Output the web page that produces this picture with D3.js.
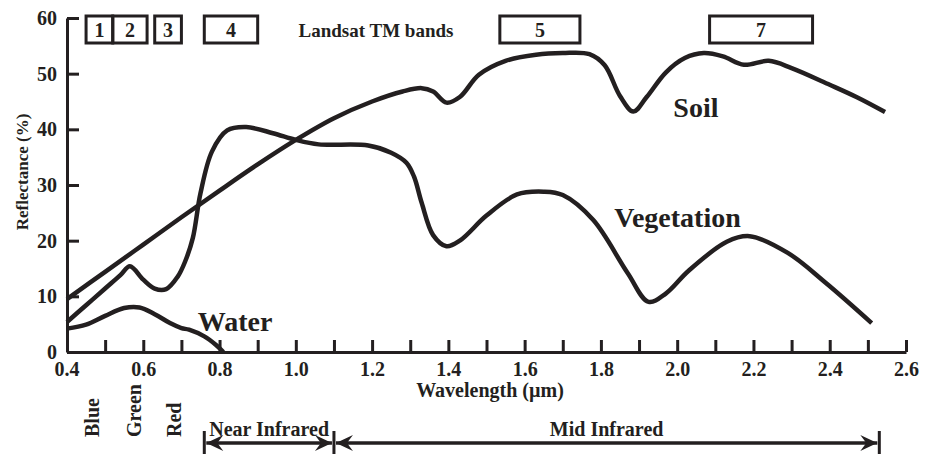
<!DOCTYPE html>
<html>
<head>
<meta charset="utf-8">
<script src="https://cdn.jsdelivr.net/npm/d3@7"></script>
<style>
  body { margin: 0; background: #fff; }
  text { font-family: "Liberation Serif", "Times New Roman", serif; font-weight: bold; fill: #231f20; }
</style>
</head>
<body>
<div id="chart"></div>
<script>
// reflectance curves (wavelength in um, reflectance in %)
var soilWl = [0.40, 0.50, 0.60, 0.70, 0.80, 0.90, 1.00, 1.10, 1.20, 1.28, 1.33, 1.36, 1.395, 1.43, 1.48, 1.55, 1.63, 1.70, 1.77, 1.81, 1.85, 1.885, 1.92, 1.97, 2.02, 2.07, 2.12, 2.175, 2.24, 2.30, 2.40, 2.47, 2.545];
var soilRefl = [9.5, 14.4, 19.3, 24.2, 29.0, 33.7, 38.1, 42.0, 45.0, 46.8, 47.4, 46.8, 44.8, 45.8, 49.8, 52.3, 53.4, 53.7, 53.5, 51.5, 46.0, 43.2, 45.8, 50.2, 52.8, 53.7, 53.1, 51.6, 52.3, 51.0, 48.0, 45.8, 43.1];

var vegWl = [0.40, 0.45, 0.50, 0.54, 0.565, 0.60, 0.63, 0.66, 0.69, 0.71, 0.73, 0.75, 0.78, 0.82, 0.87, 0.94, 1.00, 1.06, 1.19, 1.25, 1.29, 1.31, 1.33, 1.36, 1.395, 1.43, 1.50, 1.58, 1.65, 1.70, 1.78, 1.87, 1.925, 1.97, 2.03, 2.13, 2.19, 2.29, 2.39, 2.51];
var vegRefl = [5.4, 8.4, 11.4, 13.8, 15.4, 13.0, 11.4, 11.3, 13.5, 16.3, 20.5, 28.5, 36.0, 39.8, 40.4, 39.3, 38.1, 37.3, 37.1, 35.8, 34.0, 31.5, 26.8, 21.0, 19.0, 20.0, 24.5, 28.3, 28.8, 28.2, 23.7, 14.2, 9.0, 10.5, 14.6, 19.8, 20.8, 17.8, 12.4, 5.2];

var waterWl = [0.40, 0.45, 0.50, 0.55, 0.59, 0.63, 0.67, 0.70, 0.72, 0.76, 0.79, 0.81];
var waterRefl = [4.2, 4.9, 6.5, 7.9, 8.0, 6.8, 5.2, 4.3, 4.0, 2.8, 1.3, 0.0];

// Landsat TM band boxes along the top
var bandLabels = ['1', '2', '3', '4', '5', '7'];
var bandStart = [0.45, 0.52, 0.63, 0.76, 1.535, 2.085];
var bandEnd = [0.52, 0.61, 0.70, 0.90, 1.745, 2.355];

var xTicks = d3.range(4, 27).map(function (d) { return d / 10; });
var yTicks = [0, 10, 20, 30, 40, 50, 60];

var width = 936, height = 454;

var svg = d3.select('#chart').append('svg')
    .attr('width', width)
    .attr('height', height);

var x = d3.scaleLinear().domain([0.4, 2.6]).range([67, 906]);
var y = d3.scaleLinear().domain([0, 60]).range([352, 18]);

var ink = '#231f20';

// x axis, ticks point inward
var xAxis = d3.axisBottom(x)
    .tickValues(xTicks.slice(1))
    .tickSize(-12)
    .tickSizeOuter(0)
    .tickFormat(function (d) { return Math.round(d * 10) % 2 === 0 ? d3.format('.1f')(d) : ''; });

var gx = svg.append('g')
    .attr('transform', 'translate(0,' + y(0) + ')')
    .call(xAxis);
gx.select('.domain').attr('stroke', ink).attr('stroke-width', 3);
gx.selectAll('.tick line').attr('stroke', ink).attr('stroke-width', 3);
gx.selectAll('.tick text')
    .attr('y', 24).attr('dy', 0)
    .style('font-size', '20px');
// the 0.4 label sits under the y axis
gx.append('text')
    .attr('x', x(0.4)).attr('y', 24)
    .attr('text-anchor', 'middle')
    .style('font-size', '20px')
    .text('0.4');

var yAxis = d3.axisLeft(y)
    .tickValues(yTicks)
    .tickSize(-12)
    .tickSizeOuter(0)
    .tickPadding(10);

var gy = svg.append('g')
    .attr('transform', 'translate(' + x(0.4) + ',0)')
    .call(yAxis);
gy.select('.domain').attr('stroke', ink).attr('stroke-width', 3);
gy.selectAll('.tick line').attr('stroke', ink).attr('stroke-width', 3);
gy.selectAll('.tick text').style('font-size', '20px');

svg.selectAll('.tick text').style('fill', ink).style('font-family', '"Liberation Serif", serif').style('font-weight', 'bold');

// axis titles
svg.append('text')
    .attr('transform', 'translate(28,172) rotate(-90)')
    .attr('text-anchor', 'middle')
    .style('font-size', '17px')
    .text('Reflectance (%)');

svg.append('text')
    .attr('x', 490).attr('y', 397)
    .attr('text-anchor', 'middle')
    .style('font-size', '20px')
    .text('Wavelength (µm)');

// curves
var line = d3.line()
    .x(function (d) { return x(d[0]); })
    .y(function (d) { return y(d[1]); })
    .curve(d3.curveCatmullRom.alpha(0.5));

var series = [
    {name: 'Soil', pts: d3.zip(soilWl, soilRefl)},
    {name: 'Vegetation', pts: d3.zip(vegWl, vegRefl)},
    {name: 'Water', pts: d3.zip(waterWl, waterRefl)}
];

svg.selectAll('path.curve')
    .data(series)
    .enter()
    .append('path')
    .attr('class', 'curve')
    .attr('fill', 'none')
    .attr('stroke', ink)
    .attr('stroke-width', 4.5)
    .attr('stroke-linejoin', 'round')
    .attr('d', function (d) { return line(d.pts); });

// curve names
var curveLabels = [
    {name: 'Soil', w: 1.99, r: 42.2},
    {name: 'Vegetation', w: 1.835, r: 22.5},
    {name: 'Water', w: 0.743, r: 3.8}
];
svg.selectAll('text.curveName')
    .data(curveLabels)
    .enter()
    .append('text')
    .attr('class', 'curveName')
    .attr('x', function (d) { return x(d.w); })
    .attr('y', function (d) { return y(d.r); })
    .style('font-size', '28px')
    .text(function (d) { return d.name; });

// band boxes
var bands = svg.append('g');
bandLabels.forEach(function (b, i) {
    var x0 = x(bandStart[i]), x1 = x(bandEnd[i]);
    bands.append('rect')
        .attr('x', x0).attr('y', 16)
        .attr('width', x1 - x0).attr('height', 27)
        .attr('fill', 'none')
        .attr('stroke', ink)
        .attr('stroke-width', 3);
    bands.append('text')
        .attr('x', (x0 + x1) / 2).attr('y', 37)
        .attr('text-anchor', 'middle')
        .style('font-size', '20px')
        .text(b);
});

svg.append('text')
    .attr('x', 376).attr('y', 37)
    .attr('text-anchor', 'middle')
    .style('font-size', '19px')
    .text('Landsat TM bands');

// visible colour names below the axis
var colourNames = ['Blue', 'Green', 'Red'];
var colourWl = [0.465, 0.575, 0.68];
svg.selectAll('text.colour')
    .data(colourNames)
    .enter()
    .append('text')
    .attr('class', 'colour')
    .attr('transform', function (d, i) { return 'translate(' + (x(colourWl[i]) + 7) + ',437) rotate(-90)'; })
    .style('font-size', '20px')
    .text(function (d) { return d; });

// infrared ranges with arrows
var rangeNames = ['Near Infrared', 'Mid Infrared'];
var rangeStart = [0.76, 1.10];
var rangeEnd = [1.10, 2.53];
var arrowY = 443;

function arrowHead(g, tipX, dir) {
    // dir = +1 points right, -1 points left
    var p = d3.path();
    p.moveTo(tipX, arrowY);
    p.lineTo(tipX - dir * 17, arrowY - 8);
    p.lineTo(tipX - dir * 11, arrowY);
    p.lineTo(tipX - dir * 17, arrowY + 8);
    p.closePath();
    g.append('path').attr('d', p.toString()).attr('fill', ink);
}

var ranges = svg.append('g');
rangeNames.forEach(function (r, i) {
    var a = x(rangeStart[i]), b = x(rangeEnd[i]);
    ranges.append('line')
        .attr('x1', a + 2).attr('x2', b - 2)
        .attr('y1', arrowY).attr('y2', arrowY)
        .attr('stroke', ink).attr('stroke-width', 3.5);
    arrowHead(ranges, a + 2, -1);
    arrowHead(ranges, b - 2, 1);
    ranges.append('text')
        .attr('x', (a + b) / 2).attr('y', 436)
        .attr('text-anchor', 'middle')
        .style('font-size', '20px')
        .text(r);
});
var bars = rangeStart.concat([rangeEnd[rangeEnd.length - 1]]);
ranges.selectAll('line.bar')
    .data(bars)
    .enter()
    .append('line')
    .attr('class', 'bar')
    .attr('x1', function (d) { return x(d); })
    .attr('x2', function (d) { return x(d); })
    .attr('y1', 431).attr('y2', 454)
    .attr('stroke', ink).attr('stroke-width', 3);
</script>
</body>
</html>
